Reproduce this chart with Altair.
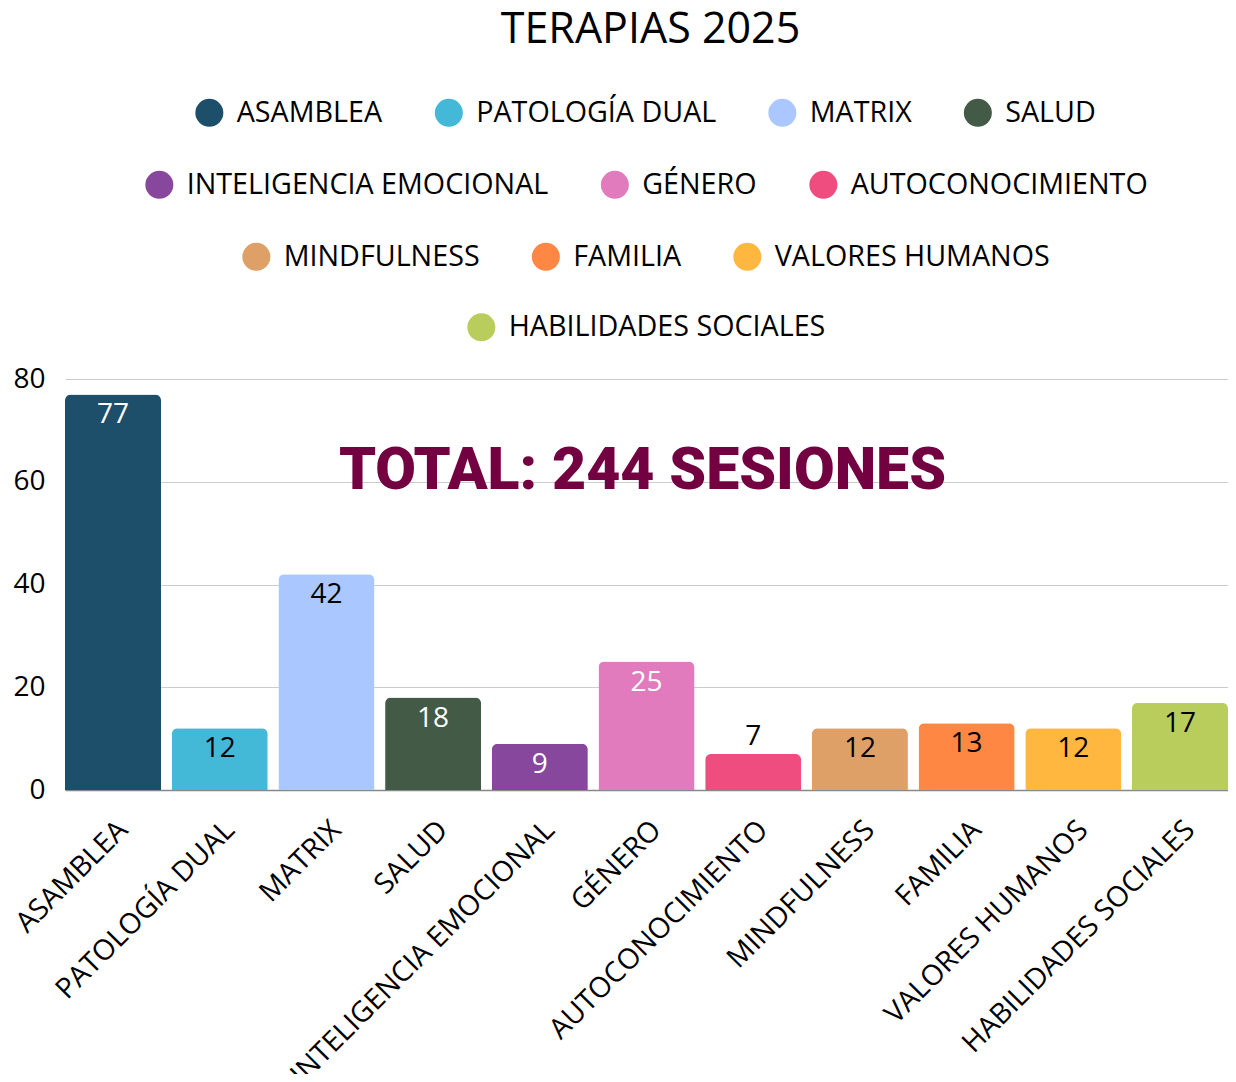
import altair as alt
import pandas as pd

# ---------------- data ----------------
categories = [
    "ASAMBLEA", "PATOLOGÍA DUAL", "MATRIX", "SALUD", "INTELIGENCIA EMOCIONAL",
    "GÉNERO", "AUTOCONOCIMIENTO", "MINDFULNESS", "FAMILIA", "VALORES HUMANOS",
    "HABILIDADES SOCIALES",
]
values = [77, 12, 42, 18, 9, 25, 7, 12, 13, 12, 17]
colors = [
    "#1E4F6A", "#43B8D7", "#AAC8FF", "#435A47", "#87479D",
    "#E17BBE", "#EF4D80", "#DEA067", "#FF8744", "#FFB73F", "#B9CD5C",
]
legend_row_sizes = [4, 3, 3, 1]
title_text = "TERAPIAS 2025"

# ---------------- layout / style ----------------
W, H = 1163, 411
FONT = "Open Sans"
FS = 28
LEG_FS = 28.7
LABEL_MIN = 8          # values below this get their label above the bar
legend_x = [130, 80, 177, 402]
legend_y = [-281, -209, -137, -66]


def rel_lum(hexcol):
    h = hexcol.lstrip("#")
    out = []
    for i in (0, 2, 4):
        c = int(h[i:i + 2], 16) / 255
        out.append(c / 12.92 if c <= 0.03928 else ((c + 0.055) / 1.055) ** 2.4)
    return 0.2126 * out[0] + 0.7152 * out[1] + 0.0722 * out[2]


df = pd.DataFrame({"cat": categories, "value": values, "color": colors})
df["inside"] = df["value"] >= LABEL_MIN
df["label_color"] = [
    ("#ffffff" if rel_lum(c) < 0.37 else "#000000") if ins else "#000000"
    for c, ins in zip(df["color"], df["inside"])
]

x_enc = alt.X(
    "cat:N",
    sort=categories,
    scale=alt.Scale(domain=categories, paddingInner=0.1, paddingOuter=0),
    axis=alt.Axis(
        title=None, labelAngle=315, labelFont=FONT, labelFontSize=28.5,
        labelColor="#000000", labelPadding=25, ticks=False, tickSize=0,
        domainColor="#888888", domainWidth=1.5, grid=False, labelLimit=1000,
    ),
)
y_enc = alt.Y(
    "value:Q",
    scale=alt.Scale(domain=[0, 80], nice=False),
    axis=alt.Axis(
        title=None, values=[0, 20, 40, 60, 80], labelFont=FONT,
        labelFontSize=FS, labelColor="#000000", labelPadding=20,
        ticks=False, tickSize=0, domain=False, gridColor="#cccccc",
        gridWidth=1,
    ),
)

layers = []
start = 0
for r, n in enumerate(legend_row_sizes):
    sub = df.iloc[start:start + n]
    start += n
    layers.append(
        alt.Chart(sub).mark_bar(cornerRadiusTopLeft=6, cornerRadiusTopRight=6).encode(
            x=x_enc,
            y=y_enc,
            color=alt.Color(
                "cat:N",
                scale=alt.Scale(domain=list(sub["cat"]), range=list(sub["color"])),
                legend=alt.Legend(
                    title=None, orient="none", legendX=legend_x[r],
                    legendY=legend_y[r], direction="horizontal",
                    symbolType="circle", symbolSize=784, symbolStrokeWidth=0,
                    symbolOpacity=1, labelFont=FONT, labelFontSize=LEG_FS,
                    labelColor="#000000", labelOffset=13, columnPadding=51.5,
                    padding=0, labelLimit=1000,
                ),
            ),
        )
    )

inside_text = alt.Chart(df[df["inside"]]).mark_text(
    font=FONT, fontSize=FS, baseline="alphabetic", align="center", dy=29
).encode(
    x=x_enc, y=y_enc, text="value:Q",
    color=alt.Color("label_color:N", scale=None),
)
outside_text = alt.Chart(df[~df["inside"]]).mark_text(
    font=FONT, fontSize=FS, baseline="alphabetic", align="center", dy=-9
).encode(
    x=x_enc, y=y_enc, text="value:Q",
    color=alt.Color("label_color:N", scale=None),
)

total_df = pd.DataFrame({"t": [f"TOTAL: {sum(values)} SESIONES"]})
total_text = alt.Chart(total_df).mark_text(
    font="Roboto", fontSize=59, fontWeight=900, color="#730040",
    align="center", baseline="middle",
).encode(
    x=alt.value(W / 2 - 4),
    y=alt.datum(62),
    text="t:N",
)

chart = (
    alt.layer(*layers, inside_text, outside_text, total_text)
    .resolve_scale(color="independent")
    .properties(
        width=W,
        height=H,
        autosize=alt.AutoSizeParams(type="none"),
        padding={"left": 57, "top": 371, "right": 0, "bottom": 284},
        title=alt.TitleParams(
            title_text, font=FONT, fontSize=43, fontWeight="normal",
            color="#000000", anchor="middle", frame="group",
            baseline="alphabetic", offset=12, dx=4,
        ),
        background="#ffffff",
    )
    .configure_view(stroke=None)
)

chart.save("out.html", embed_options={"renderer": "svg", "actions": False})
